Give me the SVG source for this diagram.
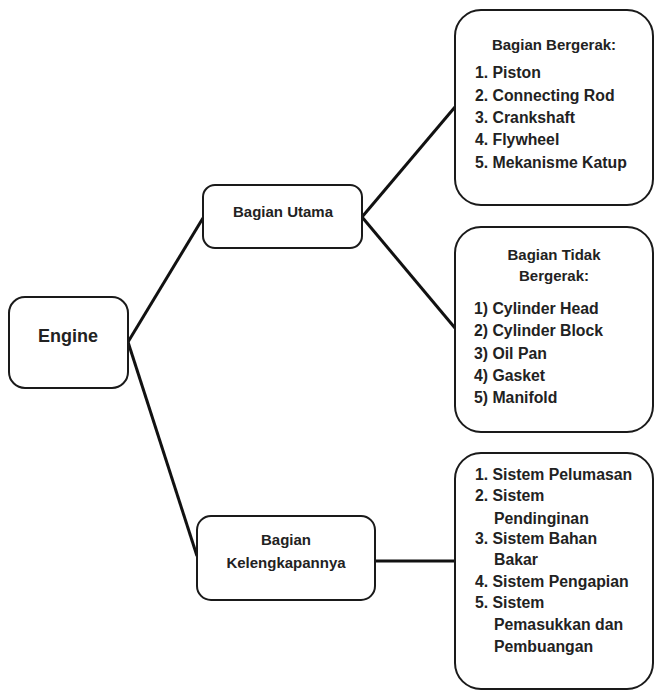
<svg xmlns="http://www.w3.org/2000/svg" width="655" height="692" viewBox="0 0 655 692">
<style>
.box{fill:#fff;stroke:#1a1a1a;stroke-width:2}
.t{font-family:"Liberation Sans",Arial,sans-serif;font-weight:bold;font-size:15px;fill:#222}
.i{font-size:15.8px}
.c{text-anchor:middle}
.ln{stroke:#111;stroke-width:3;fill:none}
</style>
<rect width="655" height="692" fill="#fff"/>
<g id="connectors">
<line class="ln" x1="128" y1="342" x2="203" y2="218"/>
<line class="ln" x1="128" y1="342" x2="197" y2="556"/>
<line class="ln" x1="362" y1="217" x2="455" y2="107"/>
<line class="ln" x1="362" y1="217" x2="455" y2="328"/>
<line class="ln" x1="375" y1="561" x2="455" y2="561"/>
</g>
<g id="engine">
<rect class="box" x="9" y="297" width="119" height="91" rx="16"/>
<text class="t c" x="68" y="342" style="font-size:18px">Engine</text>
</g>
<g id="bagian-utama">
<rect class="box" x="203" y="185" width="159" height="63" rx="12"/>
<text class="t c" x="283" y="217">Bagian Utama</text>
</g>
<g id="bagian-kelengkapannya">
<rect class="box" x="197" y="516" width="178" height="84" rx="14"/>
<text class="t c" x="286" y="545">Bagian</text>
<text class="t c" x="286" y="568">Kelengkapannya</text>
</g>
<g id="bagian-bergerak">
<rect class="box" x="455" y="10" width="198" height="195" rx="26"/>
<text class="t c" x="554" y="50">Bagian Bergerak:</text>
<text class="t i" x="475" y="78">1. Piston</text>
<text class="t i" x="475" y="101">2. Connecting Rod</text>
<text class="t i" x="475" y="123">3. Crankshaft</text>
<text class="t i" x="475" y="145">4. Flywheel</text>
<text class="t i" x="475" y="168">5. Mekanisme Katup</text>
</g>
<g id="bagian-tidak-bergerak">
<rect class="box" x="455" y="227" width="198" height="205" rx="26"/>
<text class="t c" x="554" y="260">Bagian Tidak</text>
<text class="t c" x="554" y="281">Bergerak:</text>
<text class="t i" x="474" y="314">1) Cylinder Head</text>
<text class="t i" x="474" y="336">2) Cylinder Block</text>
<text class="t i" x="474" y="359">3) Oil Pan</text>
<text class="t i" x="474" y="381">4) Gasket</text>
<text class="t i" x="474" y="403">5) Manifold</text>
</g>
<g id="sistem">
<rect class="box" x="455" y="453" width="198" height="236" rx="26"/>
<text class="t i" x="475" y="480">1. Sistem Pelumasan</text>
<text class="t i" x="475" y="501">2. Sistem</text>
<text class="t i" x="494" y="524">Pendinginan</text>
<text class="t i" x="475" y="544">3. Sistem Bahan</text>
<text class="t i" x="494" y="565">Bakar</text>
<text class="t i" x="475" y="587">4. Sistem Pengapian</text>
<text class="t i" x="475" y="608">5. Sistem</text>
<text class="t i" x="494" y="630">Pemasukkan dan</text>
<text class="t i" x="494" y="652">Pembuangan</text>
</g>
</svg>
